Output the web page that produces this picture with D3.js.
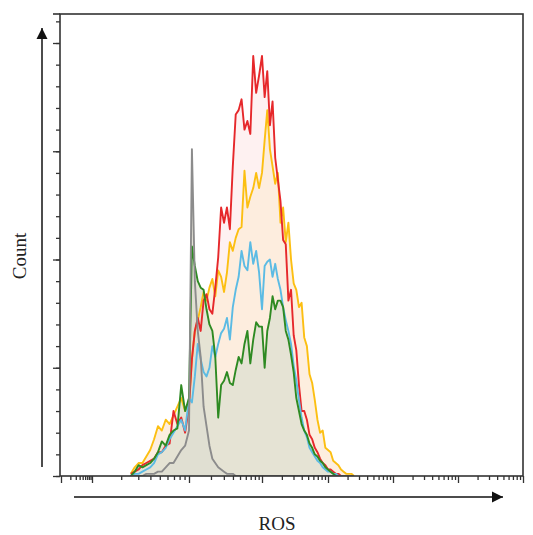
<!DOCTYPE html>
<html>
<head>
<meta charset="utf-8">
<script src="https://cdn.jsdelivr.net/npm/d3@7"></script>
<style>
  body { margin: 0; background: #fff; }
  svg { display: block; }
</style>
</head>
<body>
<div class="chart"></div>
<script>
var width = 533, height = 535;

// histogram bins (log10 ROS channel), start + step
var binStart = 1.40, binStep = 0.04;

// counts per bin
var grayCounts = [0,0,0,0,1,1,1,2,2,4,6,6,9,12,14,21,151,90,67,55,32,23,14,8,6,4,3,2,1,1,1,0,0,0,0,0,0,0,0,0,0,0,0,0,0,0,0,0,0,0,0,0,0,0,0,0,0,0,0,0,0,0,0,0,0,0,0,0,0,0,0,0,0,0,0,0];
var greenCounts = [0,2,5,4,5,6,8,11,16,14,19,21,22,42,30,36,106,97,90,87,86,77,70,67,55,27,42,44,48,43,42,49,55,52,61,67,52,63,71,69,69,50,67,73,83,77,81,81,78,67,63,56,48,36,30,24,21,19,15,13,10,9,7,6,4,3,2,1,0,0,0,0,0,0,0,0];
var blueCounts = [0,1,1,2,3,4,6,10,11,13,17,20,23,26,21,36,34,46,61,54,48,46,50,60,55,61,66,68,73,63,78,86,92,104,97,95,108,98,104,94,77,97,99,100,92,98,91,86,78,72,67,61,51,44,35,27,21,18,13,11,9,7,6,4,3,2,2,1,1,0,0,0,0,0,0,0];
var yellowCounts = [1,4,6,6,9,12,17,23,21,26,24,28,32,36,30,34,54,67,72,78,85,81,87,91,83,95,92,85,94,108,104,110,114,115,141,124,129,133,140,133,140,155,169,151,143,135,140,117,124,108,117,100,89,86,78,80,64,60,47,43,35,26,20,21,13,12,11,7,6,5,3,2,1,1,1,0];
var redCounts = [1,2,3,5,6,7,8,11,11,14,15,30,24,27,20,32,54,67,73,67,81,84,77,75,87,101,124,117,124,114,143,167,169,174,160,164,158,194,177,185,194,175,187,162,173,147,137,127,109,107,81,86,65,58,42,30,30,26,19,17,13,11,8,6,5,3,3,2,1,1,0,0,0,0,0,0];

// axis ticks
var decadeTicks = [0, 1, 2, 3, 4, 5, 6, 7];
var countMajorTicks = [0, 50, 100, 150, 200];
var countMinorStep = 10;

var series = [
  { name: "red",    counts: redCounts,    line: "#e6282b", fill: "#feeff0" },
  { name: "yellow", counts: yellowCounts, line: "#fcbf12", fill: "#fdecdc" },
  { name: "blue",   counts: blueCounts,   line: "#5bbbe4", fill: null },
  { name: "green",  counts: greenCounts,  line: "#2e8a22", fill: "#e2e1d3" },
  { name: "gray",   counts: grayCounts,   line: "#8c8c8c", fill: "#dfded2" }
];
var lineOrder = ["yellow", "red", "blue", "green", "gray"];

var svg = d3.select(".chart").append("svg")
  .attr("width", width)
  .attr("height", height);

var plotL = 60, plotR = 523, plotT = 14, plotB = 476;

// biexponential-looking axis: decades are not all the same width
var x = d3.scaleLinear()
  .domain(decadeTicks)
  .range([61, 92, 189, 262, 328, 393, 458, 523]);

var y = d3.scaleLinear()
  .domain([0, 213.4])
  .range([plotB, plotT]);

var defs = svg.append("defs");
defs.append("clipPath").attr("id", "plot")
  .append("rect").attr("x", plotL).attr("y", plotT)
  .attr("width", plotR - plotL).attr("height", plotB - plotT);

var plot = svg.append("g").attr("clip-path", "url(#plot)");

function binX(d, i) { return x(binStart + i * binStep); }

var area = d3.area().x(binX).y0(y(0)).y1(function(d) { return y(d); });
var line = d3.line().x(binX).y(function(d) { return y(d); });

// filled areas first
series.filter(function(s) { return s.fill; }).forEach(function(s) {
  plot.append("path")
    .datum(s.counts)
    .attr("d", area)
    .attr("fill", s.fill)
    .attr("fill-opacity", 0.9);
});

lineOrder.forEach(function(n) {
  var s = series.find(function(d) { return d.name === n; });
  plot.append("path")
    .datum(s.counts)
    .attr("d", line)
    .attr("fill", "none")
    .attr("stroke", s.line)
    .attr("stroke-width", 1.9)
    .attr("stroke-linejoin", "round");
});

// x axis ticks (majors + log minors)
var minorX = [];
decadeTicks.slice(0, -1).forEach(function(k) {
  d3.range(2, 10).forEach(function(m) { minorX.push(k + Math.log10(m)); });
});

var xMajor = svg.append("g").attr("transform", "translate(0," + plotB + ")")
  .call(d3.axisBottom(x).tickValues(decadeTicks).tickSize(7).tickSizeOuter(0).tickFormat(""));
var xMinor = svg.append("g").attr("transform", "translate(0," + plotB + ")")
  .call(d3.axisBottom(x).tickValues(minorX).tickSize(4).tickSizeOuter(0).tickFormat(""));

// y axis ticks
var yMajor = svg.append("g").attr("transform", "translate(" + plotL + ",0)")
  .call(d3.axisLeft(y).tickValues(countMajorTicks).tickSize(7).tickSizeOuter(0).tickFormat(""));
var yMinor = svg.append("g").attr("transform", "translate(" + plotL + ",0)")
  .call(d3.axisLeft(y).tickValues(d3.range(0, 211, countMinorStep)).tickSize(4).tickSizeOuter(0).tickFormat(""));

[xMajor, xMinor, yMajor, yMinor].forEach(function(g) {
  g.select(".domain").remove();
  g.selectAll(".tick line").attr("stroke", "#333").attr("stroke-width", 1.3);
});

// frame
svg.append("rect")
  .attr("x", plotL).attr("y", plotT)
  .attr("width", plotR - plotL).attr("height", plotB - plotT)
  .attr("fill", "none")
  .attr("stroke", "#333")
  .attr("stroke-width", 1.6);
svg.append("line")
  .attr("x1", 53).attr("x2", plotL).attr("y1", plotT).attr("y2", plotT)
  .attr("stroke", "#333").attr("stroke-width", 1.6);

// arrows
defs.append("marker")
  .attr("id", "arrow")
  .attr("viewBox", "0 0 10 10")
  .attr("refX", 10).attr("refY", 5)
  .attr("markerUnits", "userSpaceOnUse")
  .attr("markerWidth", 11).attr("markerHeight", 12)
  .attr("orient", "auto")
  .append("path").attr("d", "M0,0L10,5L0,10Z").attr("fill", "#111");

svg.append("line")
  .attr("x1", 42).attr("x2", 42).attr("y1", 467).attr("y2", 28)
  .attr("stroke", "#111").attr("stroke-width", 1.5)
  .attr("marker-end", "url(#arrow)");
svg.append("line")
  .attr("x1", 74).attr("x2", 503).attr("y1", 497).attr("y2", 497)
  .attr("stroke", "#111").attr("stroke-width", 1.5)
  .attr("marker-end", "url(#arrow)");

// labels
svg.append("text")
  .attr("transform", "translate(26,256) rotate(-90)")
  .attr("text-anchor", "middle")
  .style("font-family", "'Liberation Serif', serif")
  .style("font-size", "19px")
  .attr("fill", "#222")
  .text("Count");

svg.append("text")
  .attr("x", 277).attr("y", 530)
  .attr("text-anchor", "middle")
  .style("font-family", "'Liberation Serif', serif")
  .style("font-size", "19px")
  .attr("fill", "#222")
  .text("ROS");
</script>
</body>
</html>
